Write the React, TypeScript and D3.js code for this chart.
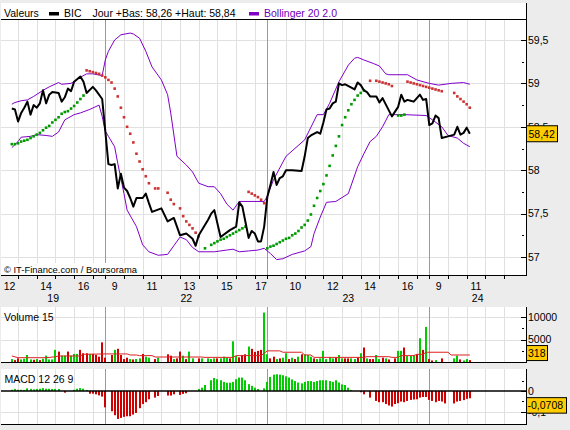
import React from "react";
import * as d3 from "d3";

// ---------- data ----------
const dayLabels = ["19", "22", "23", "24"];
// [day index, hour]
const hourLabels: [number, number][] = [
  [0, 12], [0, 14], [0, 16], [1, 9], [1, 11], [1, 13], [1, 15], [1, 17],
  [2, 10], [2, 12], [2, 14], [2, 16], [3, 9], [3, 11],
];
const priceTicks = [57, 57.5, 58, 58.5, 59, 59.5];
const priceMinor = [57.25, 57.75, 58.25, 58.75, 59.25];
const volTicks = [5000, 10000];
const volMinor = [2500, 7500];
const macdTicks = [0, -0.1];
const macdMinor = [0.05, -0.05];

const lastPrice = 58.42;
const lastVolume = 318;
const lastMacd = -0.0708;

// [bar slot, value]  (52 ten-minute slots per session)
const price: [number, number][] = [
  [22, 58.71], [23, 58.7], [24, 58.56], [25, 58.66], [26, 58.72], [27, 58.79], [28, 58.64], [29, 58.75],
  [30, 58.72], [31, 58.77], [32, 58.92], [33, 58.77], [34, 58.87], [35, 58.9], [37, 58.89], [38, 58.79],
  [39, 58.84], [40, 58.94], [41, 58.91], [42, 59.02], [44, 59.08], [45, 59.02], [46, 58.89], [48, 58.96],
  [49, 58.92], [51, 58.82], [52, 58.45], [53, 58.07], [54, 58.06], [55, 58.07], [56, 57.79], [57, 57.96],
  [58, 57.8], [59, 57.76], [60, 57.68], [61, 57.58], [62, 57.68], [64, 57.68], [65, 57.73], [66, 57.62],
  [67, 57.52], [70, 57.56], [72, 57.41], [74, 57.45], [76, 57.25], [78, 57.27], [80, 57.21], [81, 57.13],
  [82, 57.25], [85, 57.43], [86, 57.5], [87, 57.54], [89, 57.23], [92, 57.31], [94, 57.35], [95, 57.63],
  [96, 57.58], [97, 57.4], [98, 57.22], [99, 57.3], [100, 57.27], [101, 57.18], [102, 57.18], [103, 57.35],
  [104, 57.69], [105, 57.83], [106, 57.98], [107, 57.83], [108, 57.91], [109, 57.93], [110, 58.0], [112, 58.0],
  [115, 57.99], [116, 58.16], [117, 58.37], [118, 58.4], [120, 58.44], [121, 58.42], [122, 58.55], [123, 58.7],
  [124, 58.71], [125, 58.77], [126, 58.79], [127, 59.0], [128, 58.98], [129, 58.99], [131, 58.95], [132, 58.93],
  [133, 59.01], [134, 58.98], [135, 58.92], [136, 58.9], [137, 58.85], [139, 58.85], [140, 58.78], [141, 58.83],
  [144, 58.62], [146, 58.73], [147, 58.87], [148, 58.79], [149, 58.81], [150, 58.8], [151, 58.79], [153, 58.87],
  [154, 58.81], [155, 58.82], [156, 58.52], [157, 58.54], [158, 58.63], [159, 58.6], [160, 58.37], [162, 58.39],
  [164, 58.41], [165, 58.5], [166, 58.41], [167, 58.43], [168, 58.49], [169, 58.42],
];

const bollUpper: [number, number][] = [
  [22, 58.76], [23, 58.78], [25, 58.8], [27, 58.81], [29, 58.85], [32, 58.92], [34, 58.96], [37, 59.01],
  [38, 58.99], [41, 59.0], [44, 59.07], [46, 59.11], [48, 59.11], [51, 59.09], [52, 59.27], [53, 59.37],
  [55, 59.5], [57, 59.56], [60, 59.58], [61, 59.57], [63, 59.52], [65, 59.37], [67, 59.19], [70, 59.04],
  [72, 58.87], [73, 58.66], [75, 58.16], [78, 58.06], [80, 57.98], [82, 57.85], [85, 57.81], [87, 57.81],
  [89, 57.73], [91, 57.61], [93, 57.54], [95, 57.64], [103, 57.64], [104, 57.7], [106, 57.89], [110, 58.16],
  [116, 58.35], [120, 58.64], [122, 58.64], [124, 58.77], [127, 59.02], [130, 59.21], [132, 59.29], [133, 59.3],
  [135, 59.27], [138, 59.23], [140, 59.2], [142, 59.11], [143, 59.1], [149, 59.1], [152, 59.04], [156, 59.0],
  [159, 58.98], [163, 59.0], [167, 59.01], [169, 58.99],
];

const bollLower: [number, number][] = [
  [22, 58.26], [24, 58.33], [25, 58.38], [28, 58.39], [30, 58.41], [33, 58.4], [35, 58.39], [37, 58.44],
  [39, 58.58], [42, 58.64], [44, 58.66], [47, 58.7], [50, 58.75], [51, 58.62], [52, 58.45], [53, 58.39],
  [55, 58.27], [56, 58.08], [58, 57.73], [59, 57.54], [62, 57.35], [64, 57.14], [66, 57.06], [69, 57.02],
  [72, 57.03], [74, 57.13], [76, 57.23], [78, 57.2], [80, 57.11], [82, 57.06], [87, 57.06], [91, 57.08],
  [93, 57.09], [95, 57.06], [98, 57.07], [101, 57.08], [103, 57.1], [105, 57.04], [107, 56.97], [109, 56.98],
  [112, 57.03], [116, 57.07], [118, 57.12], [119, 57.27], [121, 57.46], [123, 57.63], [126, 57.64], [130, 57.73],
  [133, 58.04], [135, 58.19], [137, 58.33], [139, 58.39], [141, 58.5], [143, 58.64], [148, 58.64], [155, 58.63],
  [157, 58.58], [160, 58.5], [162, 58.4], [165, 58.37], [167, 58.31], [169, 58.27],
];

// Parabolic SAR dots above price (red) and below price (green)
const sarAbove: [number, number][] = [
  [46, 59.15], [47, 59.14], [48, 59.13], [49, 59.12], [50, 59.11], [51, 59.09], [52, 59.07], [53, 59.04],
  [54, 59.01], [55, 58.94], [56, 58.85], [57, 58.72], [58, 58.61], [59, 58.5], [60, 58.42], [61, 58.32],
  [62, 58.19], [63, 58.1], [64, 58.01], [65, 57.93], [66, 57.85], [68, 57.79], [69, 57.79], [72, 57.74],
  [73, 57.66], [74, 57.61], [76, 57.56], [77, 57.47], [78, 57.41], [79, 57.37], [80, 57.33], [81, 57.28],
  [82, 57.24], [98, 57.75], [99, 57.73], [100, 57.71], [101, 57.69], [102, 57.66], [103, 57.62],
  [137, 59.03], [139, 59.03], [140, 59.02], [141, 59.01], [142, 59.0], [143, 58.99], [144, 58.97],
  [149, 59.02], [150, 59.01], [151, 59.0], [152, 58.99], [153, 58.98], [154, 58.97], [155, 58.96], [156, 58.95],
  [157, 58.94], [158, 58.93], [159, 58.92], [160, 58.91], [164, 58.89], [165, 58.85], [166, 58.82], [167, 58.79],
  [168, 58.76], [169, 58.72],
];
const sarBelow: [number, number][] = [
  [22, 58.3], [23, 58.3], [24, 58.31], [25, 58.33], [26, 58.34], [27, 58.35], [28, 58.37], [29, 58.39],
  [30, 58.41], [31, 58.43], [32, 58.46], [33, 58.49], [34, 58.51], [35, 58.55], [36, 58.58], [37, 58.61],
  [38, 58.65], [39, 58.67], [40, 58.68], [41, 58.71], [42, 58.74], [43, 58.78], [44, 58.82], [45, 58.86],
  [84, 57.1], [86, 57.14], [87, 57.16], [88, 57.18], [89, 57.2], [90, 57.21], [91, 57.23], [92, 57.25],
  [93, 57.27], [94, 57.29], [95, 57.31], [96, 57.33], [97, 57.35],
  [104, 57.1], [105, 57.12], [106, 57.13], [107, 57.15], [108, 57.17], [109, 57.19], [110, 57.21], [111, 57.22],
  [112, 57.25], [113, 57.27], [114, 57.3], [115, 57.34], [116, 57.37], [117, 57.42], [118, 57.49], [119, 57.59],
  [120, 57.68], [121, 57.76], [122, 57.84], [123, 57.94], [124, 58.05], [125, 58.17], [126, 58.28], [127, 58.39],
  [128, 58.52], [129, 58.61], [130, 58.69], [131, 58.76], [132, 58.81], [133, 58.86], [134, 58.89], [135, 58.92],
  [146, 58.63], [147, 58.63], [148, 58.64],
];

// [bar slot, volume, direction]
const volume: [number, number, string][] = [
  [22, 750, "u"], [23, 520, "d"], [24, 900, "d"], [25, 670, "u"], [26, 820, "u"], [27, 1640, "u"], [28, 670, "u"],
  [29, 600, "d"], [30, 750, "u"], [31, 520, "d"], [32, 820, "u"], [33, 1500, "u"], [34, 670, "u"], [35, 670, "u"],
  [36, 2760, "u"], [37, 2390, "d"], [38, 1500, "u"], [39, 1500, "u"], [40, 2390, "d"], [41, 1500, "u"], [42, 1870, "u"],
  [43, 1870, "u"], [44, 2760, "d"], [45, 2020, "d"], [46, 2020, "d"], [47, 1870, "u"], [48, 1870, "d"], [49, 1640, "d"],
  [50, 1270, "d"], [51, 4400, "d"],
  [52, 1050, "d"], [54, 1640, "d"], [55, 2760, "u"], [56, 2990, "d"], [57, 1640, "d"], [58, 750, "d"], [59, 1050, "d"],
  [60, 750, "u"], [61, 670, "d"], [62, 750, "u"], [63, 900, "u"], [64, 1870, "d"], [65, 1270, "u"], [66, 1050, "u"],
  [68, 750, "d"], [69, 1050, "u"], [72, 1790, "d"], [73, 1490, "d"], [74, 750, "u"], [75, 900, "d"], [76, 2390, "d"],
  [77, 1500, "u"], [78, 750, "d"], [79, 2390, "u"], [80, 900, "u"], [82, 900, "d"], [83, 900, "u"], [85, 900, "u"],
  [86, 750, "u"], [87, 900, "u"], [88, 900, "d"], [89, 900, "u"], [90, 1270, "u"], [91, 1050, "u"], [92, 900, "d"],
  [93, 4630, "u"], [94, 1420, "u"], [95, 1120, "d"], [96, 1640, "d"], [97, 1790, "d"], [98, 3490, "u"], [99, 2990, "d"],
  [100, 2320, "d"], [101, 2540, "d"], [102, 2760, "d"], [103, 10900, "u"],
  [104, 1790, "u"], [105, 900, "d"], [106, 1270, "d"], [107, 750, "u"], [108, 900, "d"], [109, 1050, "u"], [110, 2020, "u"],
  [111, 750, "d"], [112, 1050, "u"], [113, 750, "d"], [114, 1270, "u"], [115, 1790, "d"], [116, 1790, "u"], [117, 1640, "u"],
  [118, 1270, "u"], [119, 900, "d"], [120, 750, "u"], [121, 900, "u"], [122, 2540, "u"], [123, 750, "u"], [124, 1120, "u"],
  [125, 900, "u"], [126, 1050, "d"], [127, 1640, "u"], [128, 900, "u"], [129, 900, "d"], [130, 900, "d"], [131, 900, "u"],
  [132, 750, "u"], [133, 1050, "d"], [134, 2020, "u"], [135, 3270, "d"], [136, 900, "u"], [137, 750, "d"], [138, 750, "d"],
  [139, 1640, "u"], [140, 750, "u"], [141, 1050, "d"], [142, 900, "u"], [143, 670, "d"], [145, 900, "d"], [146, 2540, "u"],
  [147, 2540, "u"], [148, 3270, "d"], [149, 1420, "u"], [150, 1420, "u"], [151, 1640, "u"], [152, 1790, "d"], [153, 5300, "u"],
  [154, 2760, "d"], [155, 7770, "u"],
  [156, 750, "d"], [157, 450, "d"], [158, 520, "u"], [160, 900, "d"], [164, 900, "u"], [165, 1500, "u"], [166, 670, "d"],
  [167, 450, "u"], [168, 750, "u"], [169, 520, "d"],
];

const volumeAvg: [number, number][] = [
  [22, 1420], [24, 1050], [33, 1050], [36, 1250], [37, 1420], [44, 1420], [45, 1790], [52, 1870], [59, 1870],
  [60, 1640], [62, 1640], [63, 1500], [67, 1500], [68, 1200], [83, 1200], [84, 1120], [93, 1120], [94, 1500],
  [102, 1500], [103, 2020], [104, 2540], [108, 2540], [109, 2240], [115, 2240], [116, 1640], [118, 1640],
  [119, 1120], [135, 1120], [136, 1270], [143, 1270], [144, 1120], [146, 1120], [147, 1500], [151, 1500],
  [152, 1790], [154, 1790], [155, 2240], [162, 2240], [163, 1640], [169, 1640],
];

const macdHist: [number, number][] = [
  [22, 0.006], [23, 0.01], [24, 0.006], [25, 0.006], [26, 0.005], [27, 0.013], [28, 0.01], [29, 0.008], [30, 0.01],
  [31, 0.011], [32, 0.014], [33, 0.011], [34, 0.011], [35, 0.01], [36, 0.01], [37, 0.01], [39, -0.008], [42, 0.006],
  [43, 0.011], [44, 0.014], [45, 0.011], [46, 0.005], [47, -0.013], [48, -0.013], [49, -0.016], [50, -0.021], [51, -0.027],
  [52, -0.079], [54, -0.098], [55, -0.117], [56, -0.135], [57, -0.13], [58, -0.125], [59, -0.122], [60, -0.122],
  [61, -0.114], [62, -0.106], [63, -0.083], [64, -0.063], [65, -0.054], [66, -0.04], [68, -0.032], [69, -0.024],
  [72, -0.022], [73, -0.022], [74, -0.016], [76, -0.019], [77, -0.014], [78, -0.011], [82, 0.01], [83, 0.016],
  [84, 0.029], [86, 0.052], [87, 0.063], [88, 0.057], [89, 0.052], [90, 0.044], [91, 0.04], [92, 0.04], [93, 0.044],
  [94, 0.057], [95, 0.065], [96, 0.065], [97, 0.052], [98, 0.033], [99, 0.025], [100, 0.016], [101, 0.01], [103, 0.013],
  [104, 0.044], [105, 0.068], [106, 0.079], [107, 0.081], [108, 0.079], [109, 0.076], [110, 0.071], [111, 0.065],
  [112, 0.056], [113, 0.048], [114, 0.041], [115, 0.037], [116, 0.044], [117, 0.048], [118, 0.048], [119, 0.044],
  [120, 0.048], [121, 0.052], [122, 0.052], [123, 0.052], [124, 0.048], [125, 0.044], [126, 0.052], [127, 0.041],
  [128, 0.032], [129, 0.029], [130, 0.016], [131, 0.005], [134, -0.006], [135, -0.016], [137, -0.032], [139, -0.048],
  [140, -0.054], [141, -0.054], [142, -0.063], [143, -0.07], [144, -0.075], [145, -0.063], [146, -0.059], [147, -0.051],
  [148, -0.054], [149, -0.048], [150, -0.043], [151, -0.041], [152, -0.04], [153, -0.032], [154, -0.029], [155, -0.029],
  [156, -0.043], [157, -0.048], [158, -0.054], [159, -0.048], [160, -0.051], [161, -0.06], [164, -0.06], [165, -0.051],
  [166, -0.048], [167, -0.044], [168, -0.038], [169, -0.035],
];

// ---------- chart ----------
const FONT = "'Liberation Sans', Arial, Helvetica, sans-serif";
const SLOTS = 52;
const fmt = (v: number) => String(v).replace(".", ",");

export default function App() {
  const L = 1;
  const R = 526;
  const x = d3.scaleLinear().domain([52, 156]).range([105.3, 429.3]);
  const y = d3.scaleLinear().domain([57, 59.5]).range([257, 40]);
  const yv = d3.scaleLinear().domain([0, 10000]).range([362.5, 316.7]);
  const ym = d3.scaleLinear().domain([0, -0.1]).range([391, 411.7]);

  const line = d3
    .line<[number, number]>()
    .x((d) => x(d[0]))
    .y((d) => y(d[1]));
  const volLine = d3
    .line<[number, number]>()
    .x((d) => x(d[0]))
    .y((d) => yv(d[1]));

  const grid: { px: number; session: boolean }[] = [];
  for (let d = 0; d < dayLabels.length; d++) {
    for (let h = 9; h <= 17; h++) {
      const px = x(d * SLOTS + (h - 9) * 6);
      if (px < L + 2 || px > R - 5) continue;
      grid.push({ px: Math.round(px) + 0.5, session: h === 9 });
    }
  }

  const panels = [
    { top: 19.5, bottom: 275 },
    { top: 307, bottom: 362.5 },
    { top: 369, bottom: 424.5 },
  ];

  const green = "#00cc00";
  const red = "#d00000";
  const purple = "#8000c8";

  const priceBoxY = y(lastPrice);
  const volBoxY = Math.min(yv(lastVolume) - 8, 346 + 7.5);
  const macdBoxY = ym(lastMacd) - 0.5;

  return (
    <svg
      width={570}
      height={430}
      style={{ position: "absolute", left: 0, top: 0 }}
      fontFamily={FONT}
    >
      <rect x={0} y={0} width={570} height={430} fill="#ececec" />
      {/* panel backgrounds */}
      <rect x={L} y={3} width={R - L} height={272.5} fill="#fff" />
      <rect x={L} y={307} width={R - L} height={55.5} fill="#fff" />
      <rect x={L} y={369} width={R - L} height={55.5} fill="#fff" />

      {/* horizontal grids */}
      {priceTicks.map((t) => (
        <line key={"hg" + t} x1={L} x2={R} y1={Math.round(y(t)) + 0.5} y2={Math.round(y(t)) + 0.5} stroke="#e0e0e0" />
      ))}
      {volTicks.map((t) => (
        <line key={"vg" + t} x1={L} x2={R} y1={Math.round(yv(t)) + 0.5} y2={Math.round(yv(t)) + 0.5} stroke="#e0e0e0" />
      ))}
      <line x1={L} x2={R} y1={Math.round(ym(-0.1)) + 0.5} y2={Math.round(ym(-0.1)) + 0.5} stroke="#e0e0e0" />

      {/* vertical grids */}
      {panels.map((p, i) =>
        grid.map((g, j) => (
          <line
            key={"vgl" + i + "-" + j}
            x1={g.px}
            x2={g.px}
            y1={p.top}
            y2={p.bottom}
            stroke={g.session ? "#9a9a9a" : "#e0e0e0"}
          />
        ))
      )}

      {/* copyright */}
      <rect x={L} y={263} width={131} height={11.5} fill="#fff" />
      <text x={4} y={272.5} fontSize={9.4} fill="#000">
        © IT-Finance.com / Boursorama
      </text>

      {/* Bollinger */}
      <path d={line(bollUpper) || ""} fill="none" stroke={purple} strokeWidth={1} />
      <path d={line(bollLower) || ""} fill="none" stroke={purple} strokeWidth={1} />

      {/* SAR */}
      {sarAbove.map((d, i) => (
        <rect key={"sa" + i} x={x(d[0]) - 1.3} y={y(d[1]) - 1.3} width={2.6} height={2.6} fill="#cc3333" />
      ))}
      {sarBelow.map((d, i) => (
        <rect key={"sb" + i} x={x(d[0]) - 1.3} y={y(d[1]) - 1.3} width={2.6} height={2.6} fill="#009900" />
      ))}

      {/* price */}
      <path d={line(price) || ""} fill="none" stroke="#000" strokeWidth={2} strokeLinejoin="round" />

      {/* volume */}
      {volume.map((d, i) => (
        <rect
          key={"v" + i}
          x={Math.round(x(d[0])) - 1}
          y={yv(d[1])}
          width={2}
          height={yv(0) - yv(d[1])}
          fill={d[2] === "u" ? green : red}
        />
      ))}
      <path d={volLine(volumeAvg) || ""} fill="none" stroke="#dd2020" strokeWidth={1} />

      {/* MACD histogram */}
      {macdHist.map((d, i) => (
        <rect
          key={"m" + i}
          x={Math.round(x(d[0])) - 1}
          y={Math.min(ym(d[1]), ym(0))}
          width={2}
          height={Math.abs(ym(d[1]) - ym(0))}
          fill={d[1] >= 0 ? green : red}
        />
      ))}
      <line x1={L} x2={R} y1={391} y2={391} stroke="#000" strokeWidth={1.5} />

      {/* frame lines */}
      <line x1={L} x2={R} y1={19.5} y2={19.5} stroke="#000" />
      <line x1={L} x2={R + 0.5} y1={275.5} y2={275.5} stroke="#000" />
      <line x1={L} x2={R + 0.5} y1={362.5} y2={362.5} stroke="#000" />
      <line x1={L} x2={R + 0.5} y1={424.5} y2={424.5} stroke="#000" />
      <line x1={R + 0.5} x2={R + 0.5} y1={3} y2={276} stroke="#000" />
      <line x1={R + 0.5} x2={R + 0.5} y1={307} y2={363} stroke="#000" />
      <line x1={R + 0.5} x2={R + 0.5} y1={369} y2={425} stroke="#000" />

      {/* x axis ticks & labels */}
      {grid.map((g, j) => (
        <line key={"xt" + j} x1={g.px} x2={g.px} y1={276} y2={279} stroke="#000" />
      ))}
      {hourLabels.map(([d, h], i) => {
        const k0 = d * SLOTS + (h - 9) * 6;
        const k1 = h === 17 ? (d + 1) * SLOTS : k0 + 6;
        const cx = (Math.max(x(k0), L) + x(k1)) / 2;
        return (
          <text key={"hl" + i} x={cx} y={289.5} fontSize={10.5} textAnchor="middle" fill="#000">
            {h}
          </text>
        );
      })}
      {dayLabels.map((lab, d) => {
        const a = Math.max(x(d * SLOTS), L);
        const b = Math.min(x((d + 1) * SLOTS), R);
        return (
          <text key={"dl" + d} x={(a + b) / 2} y={302} fontSize={10.5} textAnchor="middle" fill="#000">
            {lab}
          </text>
        );
      })}

      {/* right axis: price */}
      {priceTicks.map((t) => (
        <g key={"pt" + t}>
          <line x1={R - 5} x2={R} y1={Math.round(y(t)) + 0.5} y2={Math.round(y(t)) + 0.5} stroke="#000" />
          <text x={R + 2} y={y(t) + 3.8} fontSize={10.5} fill="#000">
            {fmt(t)}
          </text>
        </g>
      ))}
      {priceMinor.map((t) => (
        <line key={"pm" + t} x1={R - 4} x2={R - 2} y1={Math.round(y(t)) + 0.5} y2={Math.round(y(t)) + 0.5} stroke="#000" />
      ))}
      <rect x={R + 0.5} y={priceBoxY - 8} width={31} height={16} fill="#ffcc00" stroke="#000" />
      <text x={R + 2.5} y={priceBoxY + 3.8} fontSize={10.5} fill="#000">
        {fmt(lastPrice)}
      </text>

      {/* right axis: volume */}
      {volTicks.map((t) => (
        <g key={"vt" + t}>
          <line x1={R - 5} x2={R} y1={Math.round(yv(t)) + 0.5} y2={Math.round(yv(t)) + 0.5} stroke="#000" />
          <text x={R + 2} y={yv(t) + 3.8} fontSize={10.5} fill="#000">
            {t}
          </text>
        </g>
      ))}
      {volMinor.map((t) => (
        <line key={"vm" + t} x1={R - 4} x2={R - 2} y1={Math.round(yv(t)) + 0.5} y2={Math.round(yv(t)) + 0.5} stroke="#000" />
      ))}
      <rect x={R + 0.5} y={volBoxY - 7.5} width={21} height={15} fill="#ffcc00" stroke="#000" />
      <text x={R + 2} y={volBoxY + 3.8} fontSize={10.5} fill="#000">
        {lastVolume}
      </text>

      {/* right axis: MACD */}
      {macdTicks.map((t) => (
        <g key={"mt" + t}>
          <line x1={R - 5} x2={R} y1={Math.round(ym(t)) + 0.5} y2={Math.round(ym(t)) + 0.5} stroke="#000" />
          <text x={R + 2} y={ym(t) + 3.8} fontSize={10.5} fill="#000">
            {fmt(t)}
          </text>
        </g>
      ))}
      {macdMinor.map((t) => (
        <line key={"mm" + t} x1={R - 4} x2={R - 2} y1={Math.round(ym(t)) + 0.5} y2={Math.round(ym(t)) + 0.5} stroke="#000" />
      ))}
      <rect x={R + 0.5} y={macdBoxY - 7.5} width={40} height={15.5} fill="#ffcc00" stroke="#000" />
      <text x={R + 1.5} y={macdBoxY + 4} fontSize={10.5} fill="#000">
        {fmt(lastMacd)}
      </text>

      {/* legend & panel titles */}
      <text x={4} y={16.5} fontSize={10.5} fill="#000">Valeurs</text>
      <rect x={49} y={12} width={10} height={3.5} fill="#000" />
      <text x={64} y={16.5} fontSize={10.5} fill="#000">BIC</text>
      <text x={92.5} y={16.5} fontSize={10.5} fill="#000">Jour +Bas: 58,26 +Haut: 58,84</text>
      <rect x={249} y={12} width={10} height={3.5} fill={purple} />
      <text x={264} y={16.5} fontSize={10.5} fill="#7000b8">Bollinger 20 2.0</text>

      <text x={4} y={320.5} fontSize={10.5} fill="#000">Volume 15</text>
      <text x={4.5} y={383} fontSize={10.5} fill="#000">MACD 12 26 9</text>
    </svg>
  );
}
